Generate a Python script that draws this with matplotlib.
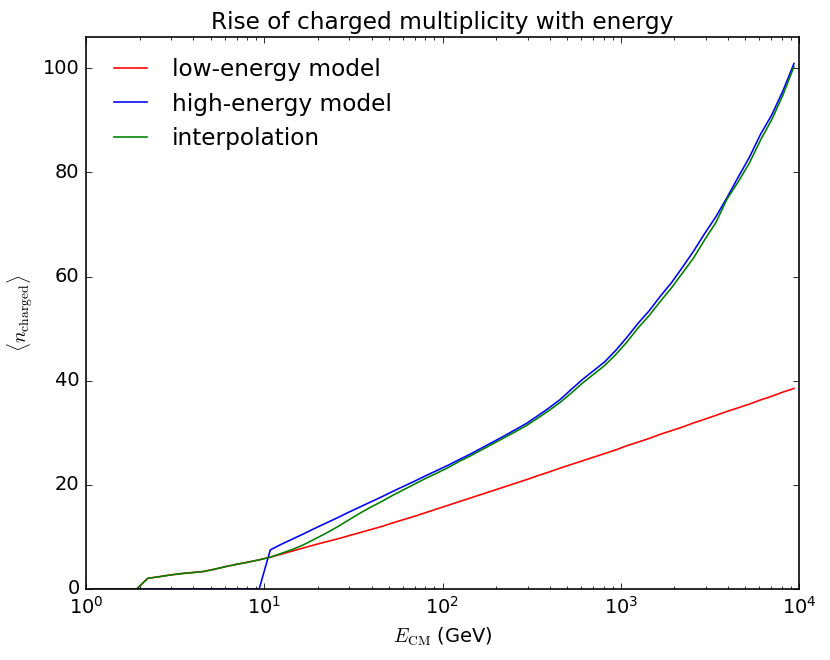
import matplotlib
matplotlib.use("Agg")
import matplotlib.pyplot as plt
import numpy as np

# centre-of-mass energies (GeV), log-spaced
energy = [1.08, 1.249, 1.442, 1.665, 1.923, 2.221, 2.564, 2.961, 3.420, 3.949,
          4.560, 5.266, 6.081, 7.022, 8.110, 9.365, 10.81, 12.49, 14.42, 16.65,
          19.23, 22.21, 25.64, 29.61, 34.20, 39.49, 45.60, 52.66, 60.81, 70.22,
          81.10, 93.65, 108.1, 124.9, 144.2, 166.5, 192.3, 222.1, 256.4, 296.1,
          342.0, 394.9, 456.0, 526.6, 608.1, 702.2, 811.0, 936.5, 1081, 1249,
          1442, 1665, 1923, 2221, 2564, 2961, 3420, 3949, 4560, 5266,
          6081, 7022, 8110, 9365]

low_model = [0, 0, 0, 0, 0, 2.05, 2.35, 2.68, 2.95, 3.15,
             3.35, 3.8, 4.3, 4.75, 5.15, 5.6, 6.1, 6.7, 7.3, 7.9,
             8.5, 9.05, 9.6, 10.2, 10.8, 11.4, 12.0, 12.7, 13.35, 14.0,
             14.7, 15.4, 16.1, 16.8, 17.5, 18.2, 18.9, 19.6, 20.3, 21.0,
             21.75, 22.45, 23.2, 23.9, 24.6, 25.3, 26.0, 26.7, 27.5, 28.2,
             28.9, 29.7, 30.4, 31.1, 31.9, 32.6, 33.35, 34.1, 34.8, 35.5,
             36.3, 37.0, 37.8, 38.5]

high_model = [0, 0, 0, 0, 0, 0, 0, 0, 0, 0,
              0, 0, 0, 0, 0, 0, 7.5, 8.6, 9.6, 10.6,
              11.65, 12.65, 13.65, 14.7, 15.7, 16.7, 17.7, 18.75, 19.75, 20.75,
              21.8, 22.8, 23.8, 24.9, 25.95, 27.1, 28.25, 29.4, 30.6, 31.8,
              33.25, 34.75, 36.35, 38.3, 40.2, 41.9, 43.6, 45.8, 48.3, 51.0,
              53.4, 56.2, 58.8, 61.8, 64.9, 68.3, 71.5, 75.2, 79.1, 82.9,
              87.3, 91.0, 95.6, 100.9]

interp = [0, 0, 0, 0, 0, 2.05, 2.35, 2.68, 2.95, 3.15,
          3.35, 3.8, 4.3, 4.75, 5.15, 5.6, 6.1, 6.85, 7.6, 8.5,
          9.6, 10.7, 11.9, 13.2, 14.5, 15.7, 16.8, 18.0, 19.1, 20.2,
          21.3, 22.3, 23.35, 24.55, 25.6, 26.75, 27.9, 29.05, 30.2, 31.4,
          32.8, 34.25, 35.8, 37.6, 39.5, 41.2, 42.9, 45.0, 47.4, 50.1,
          52.5, 55.2, 57.8, 60.7, 63.6, 67.1, 70.4, 74.9, 78.2, 81.8,
          86.2, 90.1, 94.8, 100.3]

plt.style.use("classic")

# reference is drawn a bit "zoomed": fonts/lines ~1.165x the 100 dpi size
DPI = 116.5
fig = plt.figure(figsize=(830 / DPI, 660 / DPI), dpi=DPI, facecolor="white")
ax = fig.add_axes([0.1036, 0.1076, 0.8591, 0.8364])

ax.semilogx(energy, low_model, color="r", label="low-energy model")
ax.semilogx(energy, high_model, color="b", label="high-energy model")
ax.semilogx(energy, interp, color="g", label="interpolation")

ax.set_xlim(1, 1e4)
ax.set_ylim(0, 106)
ax.set_xlabel(r"$E_{\rm CM}$ (GeV)")
ax.set_ylabel(r"$\langle n_{\rm charged}\rangle$")
ax.set_title("Rise of charged multiplicity with energy")
ax.legend(loc="upper left", frameon=False)

fig.savefig("out.png", dpi=DPI, facecolor="white")
